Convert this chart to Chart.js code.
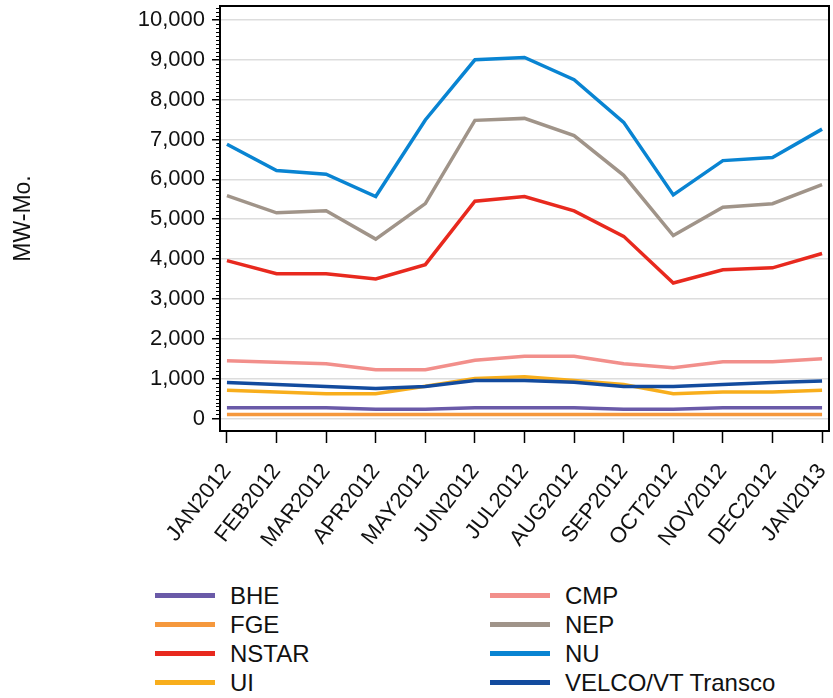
<!DOCTYPE html>
<html lang="en">
<head>
<meta charset="UTF-8">
<title>MW-Mo. by month</title>
<script src="https://cdn.jsdelivr.net/npm/chart.js"></script>
<style>
    /* page */
    body {
        margin: 0px;
        background: white;
        font-family: "Liberation Sans", Arial, Helvetica, sans-serif;
    }
    .box {
        position: relative;
        width: 833px;
        height: 575px;
    }
    /* legend in two columns, like the original */
    .legend {
        position: relative;
        width: 833px;
        height: 120px;
        margin-top: 6px;
    }
    .item {
        position: absolute;
        height: 29px;
        line-height: 29px;
        font-size: 24px;
        color: #111;
        white-space: nowrap;
    }
    .swatch {
        display: inline-block;
        width: 60px;
        height: 5px;
        vertical-align: middle;
        margin-right: 15px;
        position: relative;
        top: -2px;
    }
</style>
</head>
<body>

<div class="box">
    <canvas id="graph1"></canvas>
</div>
<div class="legend" id="legend"></div>

<script>
    const months = ["JAN2012", "FEB2012", "MAR2012", "APR2012", "MAY2012", "JUN2012",
        "JUL2012", "AUG2012", "SEP2012", "OCT2012", "NOV2012", "DEC2012", "JAN2013"];

    const yTicks = [0, 1000, 2000, 3000, 4000, 5000, 6000, 7000, 8000, 9000, 10000];

    const bhe   = [270, 270, 270, 230, 230, 270, 270, 270, 230, 230, 270, 270, 270];
    const fge   = [100, 100, 100, 100, 100, 100, 100, 100, 100, 100, 100, 100, 100];
    const nstar = [3960, 3630, 3630, 3500, 3860, 5450, 5570, 5210, 4570, 3400, 3730, 3780, 4140];
    const ui    = [710, 665, 620, 620, 810, 1000, 1045, 950, 850, 620, 665, 665, 710];
    const cmp   = [1450, 1410, 1370, 1220, 1220, 1460, 1560, 1560, 1370, 1270, 1420, 1420, 1500];
    const nep   = [5590, 5160, 5210, 4500, 5390, 7480, 7530, 7100, 6100, 4590, 5300, 5390, 5870];
    const nu    = [6880, 6220, 6130, 5570, 7490, 9000, 9060, 8500, 7430, 5610, 6470, 6550, 7260];
    const velco = [900, 850, 800, 750, 800, 950, 950, 910, 800, 800, 850, 900, 940];

    const names  = ["BHE", "FGE", "NSTAR", "UI", "CMP", "NEP", "NU", "VELCO/VT Transco"];
    const series = [bhe, fge, nstar, ui, cmp, nep, nu, velco];
    const colors = ["#6a5aa8", "#f5983c", "#e8291e", "#f8ae1c", "#f28f8b", "#a09489", "#0984d2", "#134b9e"];

    const font = "'Liberation Sans', Arial, Helvetica, sans-serif";

    let datasets = [];
    for (let i = 0; i < series.length; i++) {
        datasets.push({
            label: names[i],
            data: series[i].map((v, j) => ({x: j, y: v})),
            borderColor: colors[i],
            backgroundColor: colors[i],
            borderWidth: 3.5,
            pointRadius: 0,
            tension: 0,
            order: names[i] == "VELCO/VT Transco" ? -1 : i
        });
    }

    // plot frame + minor ticks on the y axis
    const frame = {
        id: 'frame',
        afterDraw(chart) {
            const ctx = chart.ctx;
            const a = chart.chartArea;
            const y = chart.scales.y;
            ctx.save();
            ctx.strokeStyle = '#000';
            ctx.lineWidth = 1;
            for (let v = 0; v <= 10300; v += 100) {
                if (v % 1000 == 0) continue;
                let py = Math.round(y.getPixelForValue(v)) + 0.5;
                ctx.beginPath();
                ctx.moveTo(a.left - 4, py);
                ctx.lineTo(a.left, py);
                ctx.stroke();
            }
            ctx.lineWidth = 2;
            ctx.strokeRect(a.left, a.top, a.right - a.left, a.bottom - a.top);
            ctx.restore();
        }
    };

    const config = {
        type: 'line',
        data: {datasets: datasets},
        options: {
            responsive: true,
            maintainAspectRatio: false,
            animation: false,
            layout: {padding: {top: 6, right: 4, left: 0, bottom: 0}},
            plugins: {
                legend: {display: false},
                tooltip: {enabled: false}
            },
            scales: {
                x: {
                    type: 'linear',
                    min: -0.14,
                    max: 12.14,
                    afterBuildTicks: (s) => { s.ticks = months.map((m, i) => ({value: i})); },
                    afterFit: (s) => {
                        s.height = 144;
                        s.paddingLeft = 0;
                        s.paddingRight = 0;
                    },
                    grid: {drawOnChartArea: false, tickColor: '#000', tickLength: 12, tickWidth: 1.5},
                    border: {color: '#000', width: 2},
                    ticks: {
                        autoSkip: false,
                        maxRotation: 52,
                        minRotation: 52,
                        color: '#111',
                        padding: 16,
                        font: {family: font, size: 22},
                        callback: (v) => months[v]
                    }
                },
                y: {
                    min: -315,
                    max: 10350,
                    afterBuildTicks: (s) => { s.ticks = yTicks.map(v => ({value: v})); },
                    afterFit: (s) => {
                        s.width = 220;
                        s.paddingTop = 0;
                        s.paddingBottom = 0;
                    },
                    grid: {color: '#dddddd', lineWidth: 1.5, tickColor: '#000', tickLength: 8, tickWidth: 1.5},
                    border: {color: '#000', width: 2},
                    ticks: {
                        color: '#111',
                        padding: 7,
                        font: {family: font, size: 22},
                        callback: (v) => v.toLocaleString('en-US')
                    },
                    title: {
                        display: true,
                        text: 'MW-Mo.',
                        color: '#111',
                        padding: {top: 10, bottom: 0},
                        font: {family: font, size: 23}
                    }
                }
            }
        },
        plugins: [frame]
    };

    let graph1 = new Chart(document.getElementById('graph1'), config);

    // legend: left column first four, right column last four
    const legend = document.getElementById('legend');
    for (let i = 0; i < names.length; i++) {
        let col = Math.floor(i / 4);
        let row = i % 4;
        let el = document.createElement('div');
        el.className = 'item';
        el.style.left = (col == 0 ? 155 : 490) + 'px';
        el.style.top = (row * 29) + 'px';
        el.innerHTML = '<span class="swatch" style="background:' + colors[i] + '"></span>' + names[i];
        legend.appendChild(el);
    }
</script>
</body>
</html>
